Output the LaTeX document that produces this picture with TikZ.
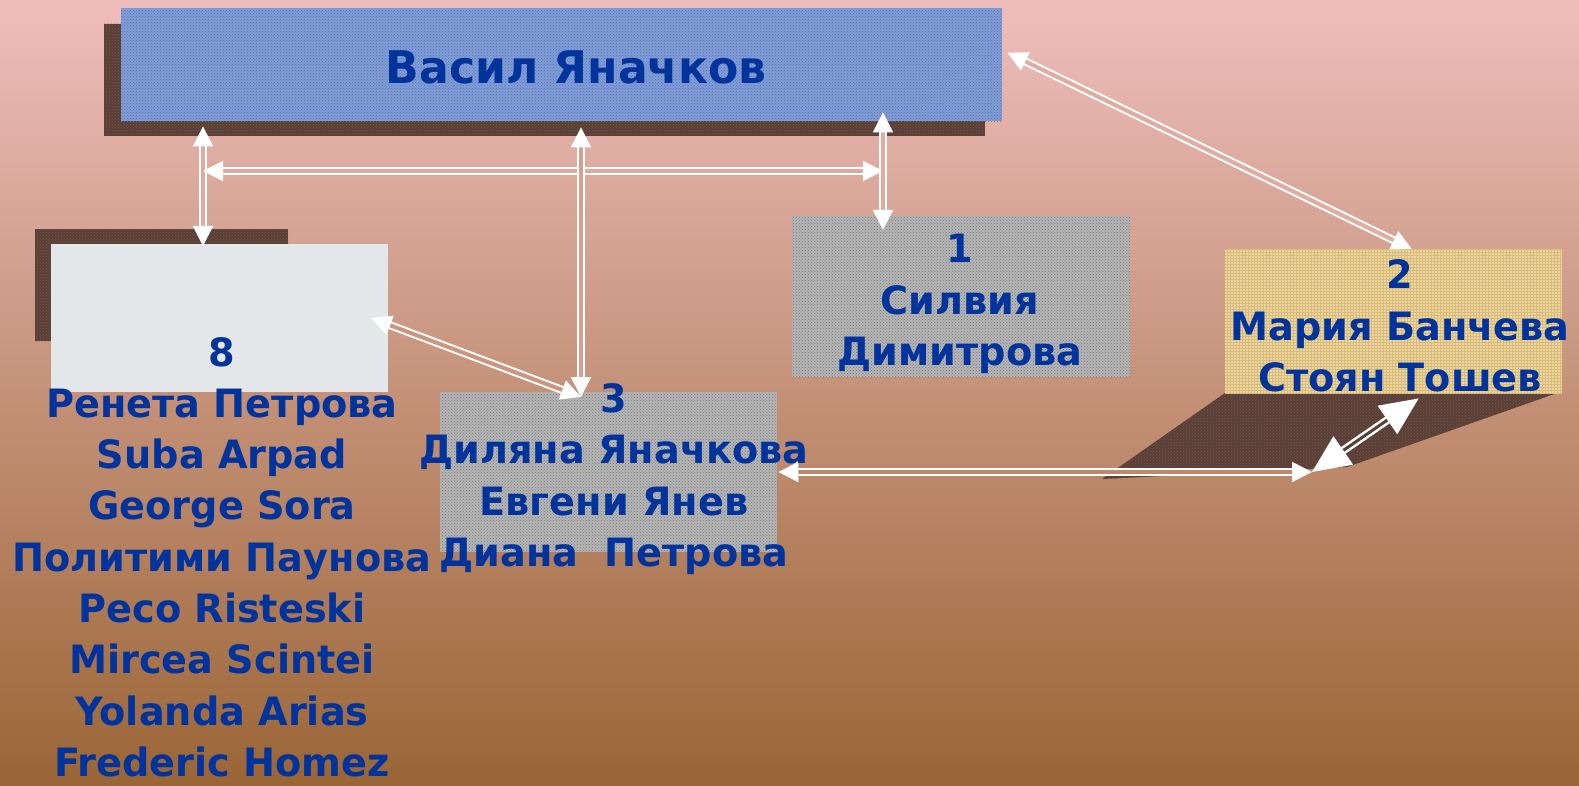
\documentclass[tikz,border=0pt]{standalone}
\usepackage{fontspec}
\newfontfamily\lblfont{DejaVu Sans}[FakeStretch=0.98]
\usetikzlibrary{arrows.meta,patterns}
\definecolor{bgtop}{HTML}{EFBEBC}
\definecolor{bgbottom}{HTML}{9A6535}
\definecolor{shadowbrown}{HTML}{5A4038}
\definecolor{shadowdots}{HTML}{735248}
\definecolor{fabricblue}{HTML}{7F9CD6}
\definecolor{fabricdark}{HTML}{5B78B8}
\definecolor{granitegray}{HTML}{B4B4B4}
\definecolor{granitedark}{HTML}{7C7C7C}
\definecolor{marblewhite}{HTML}{E4E7EA}
\definecolor{papyrus}{HTML}{EDD59C}
\definecolor{papyrusdark}{HTML}{D8BC7E}
\definecolor{lblblue}{HTML}{00339C}
\begin{document}
\begin{tikzpicture}[x=1pt,y=-1pt,
  box/.style={rectangle,inner sep=0,anchor=north west},
  fabric/.style={box,fill=fabricblue,postaction={pattern=crosshatch dots,pattern color=fabricdark}},
  granite/.style={box,fill=granitegray,postaction={pattern=crosshatch dots,pattern color=granitedark}},
  marble/.style={box,fill=marblewhite},
  papyrus/.style={box,fill=papyrus,postaction={pattern=grid,pattern color=papyrusdark}},
  shadow/.style={fill=shadowbrown,postaction={pattern=crosshatch dots,pattern color=shadowdots}},
  lbl/.style={align=center,text=lblblue,font=\lblfont\bfseries\fontsize{39}{51.3}\selectfont},
  link/.style={draw=white,line width=2pt,double=#1,double distance=4pt,
    {Triangle[width=20pt,length=20pt]}-{Triangle[width=20pt,length=20pt]}},
  biglink/.style={draw=white,line width=2.5pt,double=#1,double distance=3pt,
    {Triangle[width=34pt,length=38pt]}-{Triangle[width=34pt,length=38pt]}}]
% background
\shade[top color=bgtop,bottom color=bgbottom] (0,0) rectangle (1579,786);
\useasboundingbox (0,0) rectangle (1579,786);
% shadows
\fill[shadow] (104,24) rectangle (985,136);
\fill[shadow] (35,229) rectangle (288,341);
\fill[shadow] (1225,393) -- (1557,393) -- (1347,467) -- (1102,479) -- cycle;
% boxes
\node[fabric,minimum width=881,minimum height=113] (vasil) at (121,8) {};
\node[marble,minimum width=337,minimum height=148] (n8) at (51,244) {};
\node[granite,minimum width=338,minimum height=161] (n1) at (792,216) {};
\node[papyrus,minimum width=337,minimum height=144] (n2) at (1225,249) {};
\node[granite,minimum width=337,minimum height=160] (n3) at (440,392) {};
% meeting points of the links
\coordinate (xL) at (203,0);
\coordinate (xM) at (581,0);
\coordinate (xR) at (883,0);
\coordinate (yH) at (0,171);
\coordinate (m3) at (581,397);
\coordinate (m2) at (1312,472);
% links
\draw[link=bgtop!80!bgbottom] ([yshift=-5pt]vasil.south -| xL) -- ([yshift=-2pt]n8.north -| xL);
\draw[link=bgtop!78!bgbottom] (xL |- yH) -- (xR |- yH);
\draw[link=bgtop!80!bgbottom] ([yshift=9pt]vasil.south -| xR) -- ([yshift=-14pt]n1.north -| xR);
\draw[link=bgtop!67!bgbottom] ([yshift=-6pt]vasil.south -| xM) -- (m3);
\draw[link=bgtop!55!bgbottom] ([xshift=-17pt]n8.east) -- (m3);
\draw[link=bgtop!81!bgbottom] ([shift={(5pt,12pt)}]vasil.east) -- ([xshift=18pt]n2.north);
\draw[link=bgtop!40!bgbottom] ([xshift=1pt]n3.east |- m2) -- (m2);
\draw[biglink=shadowbrown] (m2) -- ([shift={(25pt,-5pt)}]n2.south);
% labels
\node[lbl,font=\lblfont\bfseries\fontsize{45}{50}\selectfont] (tvasil) at (576,67) {Васил Яначков};
\node[lbl] (t8) at (222,557) {8\\Ренета Петрова\\Suba Arpad\\George Sora\\Политими Паунова\\Peco Risteski\\Mircea Scintei\\Yolanda Arias\\Frederic Homez};
\node[lbl] (t1) at (960,304) {1\\Силвия\\Димитрова};
\node[lbl] (t2) at (1400,326) {2\\Мария Банчева\\Стоян Тошев};
\node[lbl] (t3) at (614,479) {3\\Диляна Яначкова\\Евгени Янев\\Диана~~Петрова};
\end{tikzpicture}
\end{document}
